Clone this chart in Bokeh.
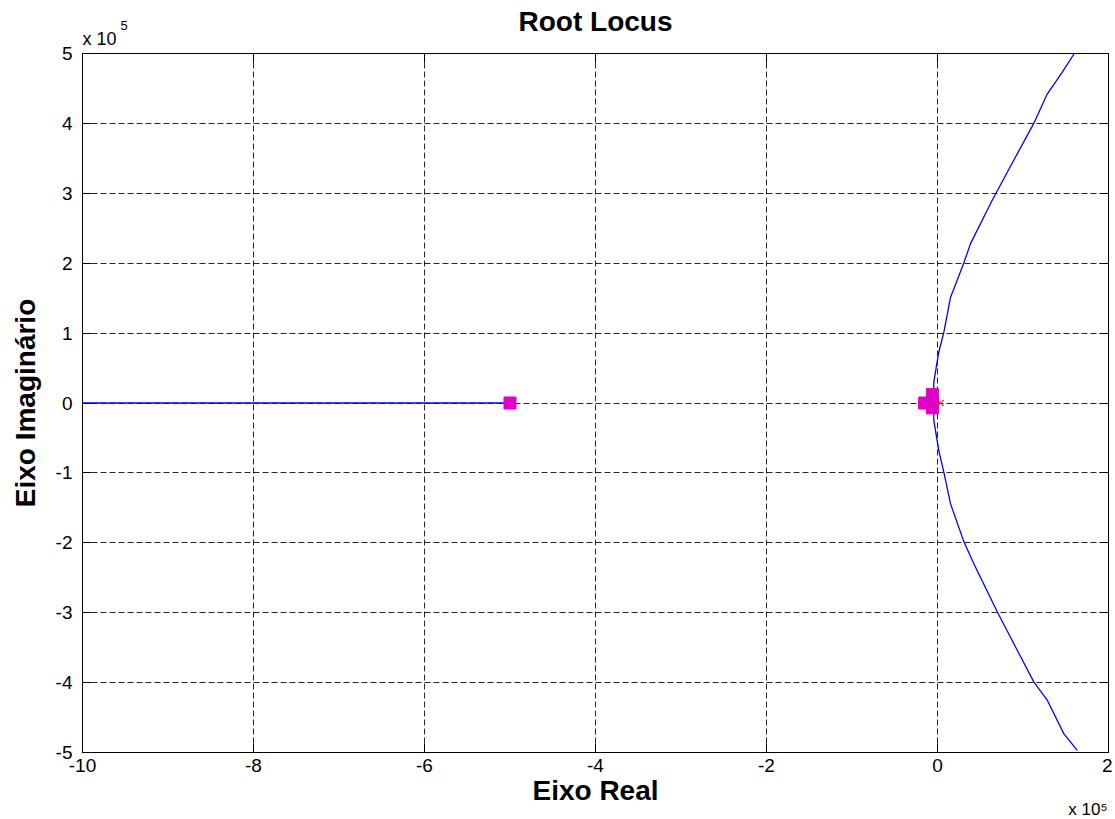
from bokeh.plotting import figure
from bokeh.models import Range1d, FixedTicker, LinearAxis, Title
from bokeh.embed import file_html
from bokeh.resources import INLINE

# Data in units of 1e5 (axes show "x 10^5")
left_re = [-10.0, -5.0]
left_im = [0.0, 0.0]

upper_re = [-0.045, -0.043, 0.015, 0.074, 0.152, 0.31, 0.386, 0.64, 0.89, 1.126, 1.283, 1.458, 1.60]
upper_im = [0.10, 0.30, 0.73, 1.01, 1.51, 2.01, 2.28, 2.90, 3.47, 4.00, 4.42, 4.73, 5.00]

lower_re = [-0.045, -0.043, 0.015, 0.074, 0.152, 0.31, 0.425, 0.70, 0.93, 1.126, 1.283, 1.477, 1.634]
lower_im = [-0.10, -0.25, -0.68, -0.99, -1.44, -1.99, -2.30, -2.99, -3.53, -3.99, -4.25, -4.73, -4.97]

pole_re = [0.035]
pole_im = [0.0]
zero_re = [-0.17]
zero_im = [0.0]

cl_re = [-5.0, -0.06, -0.06, -0.15, -0.06]
cl_im = [0.0, 0.12, -0.07, 0.0, 0.0]

x_ticks = [-10, -8, -6, -4, -2, 0, 2]
y_ticks = [-5, -4, -3, -2, -1, 0, 1, 2, 3, 4, 5]

FONT = "Liberation Sans"

p = figure(width=1112, height=819, x_range=Range1d(-10, 2), y_range=Range1d(-5, 5),
           output_backend="svg", toolbar_location=None,
           min_border_left=82, min_border_right=4, min_border_top=53, min_border_bottom=67)
p.background_fill_color = "white"
p.border_fill_color = "white"
p.outline_line_color = "black"
p.outline_line_width = 1

for ax, ticks in ((p.xaxis[0], x_ticks), (p.yaxis[0], y_ticks)):
    ax.ticker = FixedTicker(ticks=ticks)
    ax.major_label_overrides = {t: str(t) for t in ticks}
    ax.major_tick_in = 9
    ax.major_tick_out = 0
    ax.minor_tick_line_color = None
    ax.axis_line_color = None
    ax.major_tick_line_color = "black"
    ax.major_label_text_font = FONT
    ax.major_label_text_font_size = "19px"
    ax.major_label_text_color = "black"
    ax.axis_label_text_font = FONT
    ax.axis_label_text_font_size = "28px"
    ax.axis_label_text_font_style = "bold"
    ax.axis_label_text_color = "black"

p.xaxis.axis_label = "Eixo Real"
p.yaxis.axis_label = "Eixo Imaginário"
p.xaxis.major_label_standoff = 6
p.xaxis.axis_label_standoff = 0
p.yaxis.major_label_standoff = 10
p.yaxis.axis_label_standoff = 12

for loc, ticks in (("above", x_ticks), ("right", y_ticks)):
    a = LinearAxis(ticker=FixedTicker(ticks=ticks), major_tick_in=9, major_tick_out=0,
                   minor_tick_line_color=None, axis_line_color=None,
                   major_label_text_font_size="0px", major_label_standoff=0,
                   major_tick_line_color="black")
    a.major_label_text_color = None
    p.add_layout(a, loc)

p.xgrid.ticker = FixedTicker(ticks=x_ticks)
p.ygrid.ticker = FixedTicker(ticks=y_ticks)
p.grid.grid_line_color = "black"
p.grid.grid_line_dash = "6 3"
p.grid.grid_line_width = 1
p.grid.grid_line_alpha = 0.85

p.line(left_re, left_im, line_color="#0000ff", line_width=1.3)
p.line(upper_re, upper_im, line_color="#0000ff", line_width=1.3)
p.line(lower_re, lower_im, line_color="#0000ff", line_width=1.3)

p.scatter(zero_re, zero_im, marker="circle", size=9, fill_color=None, line_color="#ff2020", line_width=1.2)
p.scatter(cl_re, cl_im, marker="square", size=12, fill_color="#e000c8", line_color="#e000c8")
p.scatter(pole_re, pole_im, marker="x", size=9, line_color="#ff2020", line_width=1.2)

def ttl(text, size, align, offset, standoff, bold=False):
    return Title(text=text, align=align, offset=offset, standoff=standoff,
                 text_font=FONT, text_font_size=size,
                 text_font_style="bold" if bold else "normal", text_color="black")

# above panel, stacked outward from the frame
p.add_layout(ttl("x 10", "18px", "left", 0, 10), "above")
p.add_layout(ttl("5", "13px", "left", 38, -16), "above")
p.add_layout(ttl("Root Locus", "28px", "center", 0, -30, bold=True), "above")

# below panel
p.add_layout(ttl("x 10\u2075", "17px", "right", 1, -21), "below")

open("out.html", "w").write(file_html(p, INLINE))
